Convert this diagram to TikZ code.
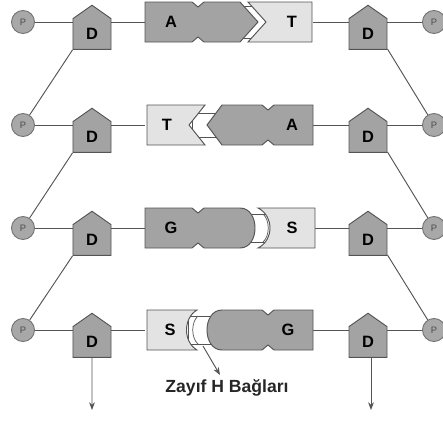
\documentclass[tikz,border=0pt]{standalone}
\usepackage{fontspec}
\setmainfont{Liberation Sans}
\usetikzlibrary{shapes.symbols,arrows.meta}
\definecolor{edgegray}{gray}{0.33}
\definecolor{phosedge}{gray}{0.45}
\definecolor{phosfill}{gray}{0.66}
\definecolor{sugarfill}{gray}{0.64}
\definecolor{darkbase}{gray}{0.64}
\definecolor{lightbase}{gray}{0.89}
\definecolor{textgray}{gray}{0.3}

\begin{document}
\begin{tikzpicture}[>=Stealth, x=0.03cm, y=-0.03cm,
		bb/.style={draw=edgegray, line width=0.8pt},
		phos/.style={circle, draw=phosedge, fill=phosfill, line width=0.8pt, minimum size=0.69cm, inner sep=0pt, text=textgray, font=\fontsize{8}{8}\selectfont},
		sugar/.style={signal, signal to=north, signal from=nowhere, signal pointer angle=110, draw=edgegray, fill=sugarfill, line width=0.8pt, minimum width=1.14cm, minimum height=1.05cm, inner sep=0pt, font=\fontsize{14}{14}\selectfont\bfseries},
		purine/.style={draw=edgegray, fill=darkbase, line width=0.8pt},
		pyrimidine/.style={draw=edgegray, fill=lightbase, line width=0.8pt},
		hbond/.style={draw=edgegray, fill=white, line width=0.6pt},
		baselabel/.style={font=\fontsize{14}{14}\selectfont\bfseries}]
	\useasboundingbox (0,0) rectangle (443,421);
	% backbone: phosphates and sugars
	\foreach \r/\y in {1/22,2/125,3/228,4/330}{
		\node[phos] (pl\r) at (23,\y) {P};
		\node[sugar] (dl\r) at (92,\y+12) {D};
		\node[sugar] (dr\r) at (368,\y+12) {D};
		\node[phos] (pr\r) at (434,\y) {P};
		\coordinate (bl\r) at (145,\y);
		\coordinate (br\r) at (313,\y);
		\draw[bb] (pl\r) -- (pl\r -| dl\r.west);
		\draw[bb] (pr\r) -- (pr\r -| dr\r.east);
		\draw[bb] (dl\r.east |- bl\r) -- (bl\r);
		\draw[bb] (br\r) -- (dr\r.west |- br\r);
	}
	\foreach \r [count=\n from 2] in {1,2,3}{
		\draw[bb] (dl\r.south west) -- (pl\n);
		\draw[bb] (dr\r.south east) -- (pr\n);
	}
	% A - T
	\draw[hbond] (236,6) rectangle (270,38);
	\draw[purine] (145,2) -- (192,2) -- (198,7) -- (204,2) -- (240,2) -- (258,22) -- (240,42) -- (204,42) -- (198,37) -- (192,42) -- (145,42) -- cycle;
	\draw[pyrimidine] (248,2) -- (312,2) -- (312,42) -- (248,42) -- (266,22) -- cycle;
	\node[baselabel] (a1) at (171,22) {A};
	\node[baselabel] (t1) at (292,22) {T};
	% T - A
	\draw[hbond] (192,113) rectangle (220,137);
	\draw[pyrimidine] (147,105) -- (205,105) -- (189,125) -- (205,145) -- (147,145) -- cycle;
	\draw[purine] (222,105) -- (262,105) -- (268,110) -- (274,105) -- (313,105) -- (313,145) -- (274,145) -- (268,140) -- (262,145) -- (222,145) -- (207,125) -- cycle;
	\node[baselabel] (t2) at (167,125) {T};
	\node[baselabel] (a2) at (292,125) {A};
	% G - S
	\draw[hbond] (244,214) rectangle (272,242);
	\draw[hbond] (263,214) .. controls (270,220) and (270,236) .. (263,242);
	\draw[purine] (145,208) -- (192,208) -- (198,213) -- (204,208) -- (240,208) .. controls (260,208) and (260,248) .. (240,248) -- (204,248) -- (198,243) -- (192,248) -- (145,248) -- cycle;
	\draw[pyrimidine] (258,208) -- (315,208) -- (315,248) -- (258,248) .. controls (274,240) and (274,216) .. (258,208) -- cycle;
	\node[baselabel] (g3) at (171,228) {G};
	\node[baselabel] (s3) at (292,228) {S};
	% S - G
	\draw[hbond] (188,316) rectangle (214,344);
	\draw[hbond] (198,316) .. controls (191,322) and (191,338) .. (198,344);
	\draw[pyrimidine] (147,310) -- (197,310) .. controls (183,318) and (183,342) .. (197,350) -- (147,350) -- cycle;
	\draw[purine] (222,310) -- (262,310) -- (268,315) -- (274,310) -- (313,310) -- (313,350) -- (274,350) -- (268,345) -- (262,350) -- (222,350) .. controls (202,350) and (202,310) .. (222,310) -- cycle;
	\node[baselabel] (s4) at (170,330) {S};
	\node[baselabel] (g4) at (288,330) {G};
	% strand ends and label
	\coordinate (endl) at (92,410);
	\coordinate (endr) at (371,410);
	\draw[bb,->] (dl4) -- (endl);
	\draw[bb,->] (dr4.south -| endr) -- (endr);
	\coordinate (hb) at (203,346);
	\coordinate (hbtip) at (220,375);
	\draw[bb,->] (hb) -- (hbtip);
	\node[font=\fontsize{15}{15}\selectfont\bfseries, text=black!85] (hlabel) at (227,388) {Zayıf H Bağları};
\end{tikzpicture}
\end{document}
